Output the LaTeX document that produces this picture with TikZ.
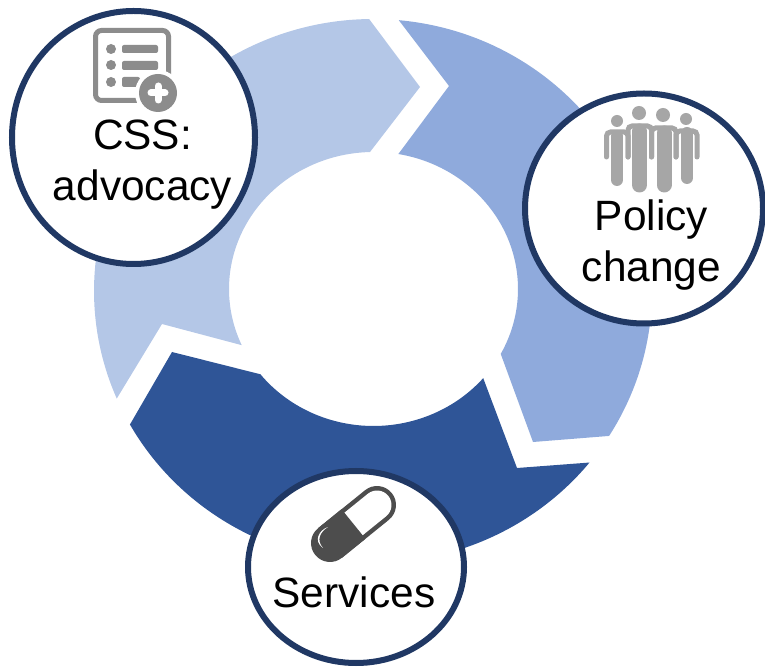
\documentclass[tikz,border=0pt]{standalone}
\usepackage{fontspec}
\setmainfont{Liberation Sans}
\usetikzlibrary{shapes.geometric}

\definecolor{segLight}{HTML}{B4C7E7}
\definecolor{segMid}{HTML}{8FAADC}
\definecolor{segDark}{HTML}{2F5597}
\definecolor{hubEdge}{HTML}{203864}
\definecolor{iconGray}{HTML}{8C8C8C}
\definecolor{peopleGray}{HTML}{A6A6A6}
\definecolor{pillGray}{HTML}{4D4D4D}

\tikzset{
	hub/.style={ellipse,draw=hubEdge,fill=white,line width=6pt,inner sep=0pt},
	hubtext/.style={align=center,inner sep=0pt,font=\fontsize{42.4}{51}\selectfont},
	outerarc/.style={x radius=279pt,y radius=272pt},
	innerarc/.style={x radius=144.5pt,y radius=137pt},
	person/.style={peopleGray,line cap=round},
	shoulder/.style={peopleGray,line width=5pt,line cap=round,rounded corners=4pt}
}

\begin{document}
\begin{tikzpicture}[x=1pt,y=1pt]
	\useasboundingbox (0,0) rectangle (765,667);
	\coordinate (RingO) at (373,376);
	\coordinate (RingI) at (373.5,378);

	\fill[segLight] ([shift={(90.8:279pt and 272pt)}]RingO) arc[start angle=90.8,end angle=203.3,outerarc]
		-- (162,343) -- ([shift={(204.2:144.5pt and 137pt)}]RingI)
		arc[start angle=204.2,end angle=91.4,innerarc] -- (420,580) -- cycle;
	\fill[segMid] ([shift={(84.7:279pt and 272pt)}]RingO) arc[start angle=84.7,end angle=-32.2,outerarc]
		-- (533,225) -- ([shift={(-28.3:144.5pt and 137pt)}]RingI)
		arc[start angle=-28.3,end angle=80.1,innerarc] -- (449,581) -- cycle;
	\fill[segDark] ([shift={(209.4:279pt and 272pt)}]RingO) arc[start angle=209.4,end angle=320.9,outerarc]
		-- (517,199) -- ([shift={(-40.6:144.5pt and 137pt)}]RingI)
		arc[start angle=-40.6,end angle=-141.5,innerarc] -- (172,315) -- cycle;

	\node[hub,minimum width=243pt,minimum height=253pt] (CSS) at (133.5,529.5) {};
	\node[hub,minimum width=238pt,minimum height=230pt] (Policy) at (644,458.5) {};
	\node[hub,minimum width=216pt,minimum height=192pt] (Services) at (356,100) {};

	% checklist
	\draw[iconGray,line width=5pt,rounded corners=6pt] (95.5,566.5) rectangle (168.5,636.5);
	\foreach \y in {618,602,585}
		\fill[iconGray] (111,\y) circle (5);
	\fill[iconGray,rounded corners=2pt] (122,614) rectangle (158,622);
	\fill[iconGray,rounded corners=2pt] (122,597) rectangle (158,606);
	\fill[iconGray,rounded corners=2pt] (122,580) rectangle (140,590);
	\fill[white] (158,574) circle (23);
	\fill[iconGray] (158,574) circle (19);
	\draw[white,line width=7pt,line cap=round] (158,567) -- (158,581) (151,574) -- (165,574);

	% people
	\foreach \x/\y/\r in {617/546/6,639/554/7,663/552/7,686/548/6}
		\fill[peopleGray] (\x,\y) circle (\r);
	\foreach \x/\w/\top/\bot in {617/12/531/487,639.5/15/536/482,664/15/534/482,687/12/534/489}
		\draw[person,line width=\w pt] (\x,\top) -- (\x,\bot);
	\foreach \xa/\xb/\top in {606.5/628/535,628/651.5/541,651.5/676/539,676/697/536}
		\draw[shoulder] (\xa,510) -- (\xa,\top) -- (\xb,\top) -- (\xb,510);

	% capsule
	\coordinate (PillA) at (330,124);
	\coordinate (PillB) at (377,162);
	\coordinate (PillC) at (353.5,143);
	\draw[pillGray,line width=38pt,line cap=round] (PillA) -- (PillB);
	\draw[white,line width=29pt,line cap=round] (PillC) -- (PillB);
	\draw[pillGray,line width=38pt] (PillA) -- (PillC);
	\fill[white] (328,140) .. controls (319,137) and (313,126) .. (323,119) .. controls (316,127) and (320,135) .. (328,140);

	\node[hubtext] (CSStext) at (142.5,502.5) {CSS:\\advocacy};
	\node[hubtext] (Policytext) at (651.5,421.5) {Policy\\change};
	\node[hubtext,anchor=base] (Servicestext) at (354,60) {Services};
\end{tikzpicture}
\end{document}
